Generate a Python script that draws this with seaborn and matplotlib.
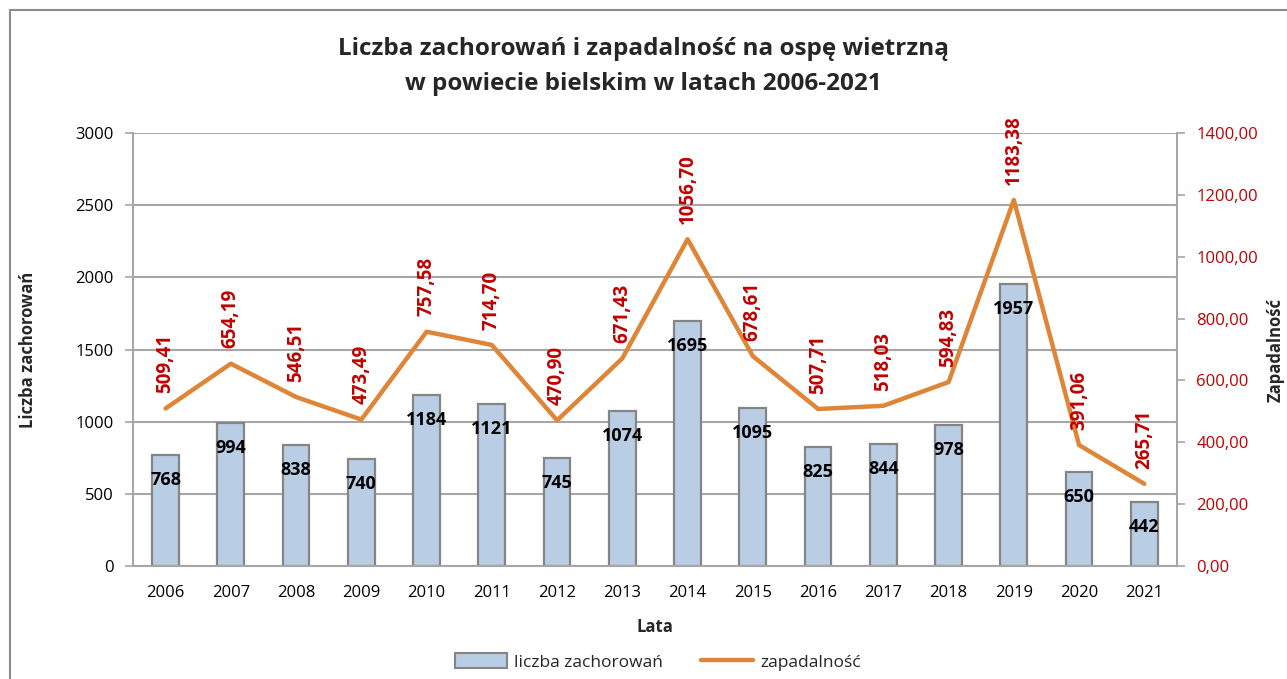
import numpy as np
import pandas as pd
import matplotlib
matplotlib.use("Agg")
import matplotlib.pyplot as plt
from matplotlib.patches import Patch, Rectangle
from matplotlib.lines import Line2D
from matplotlib.ticker import FuncFormatter, MultipleLocator, FixedLocator
import seaborn as sns

# dane
lata = ["2006", "2007", "2008", "2009", "2010", "2011", "2012", "2013",
        "2014", "2015", "2016", "2017", "2018", "2019", "2020", "2021"]
zachorowania = [768, 994, 838, 740, 1184, 1121, 745, 1074,
                1695, 1095, 825, 844, 978, 1957, 650, 442]
zapadalnosc = [509.41, 654.19, 546.51, 473.49, 757.58, 714.70, 470.90, 671.43,
               1056.70, 678.61, 507.71, 518.03, 594.83, 1183.38, 391.06, 265.71]

df = pd.DataFrame({"rok": lata, "liczba": zachorowania, "zap": zapadalnosc})

sns.set_theme(style="white")
plt.rcParams["font.family"] = ["Open Sans", "DejaVu Sans"]

BAR_FILL = "#B9CDE5"
BAR_EDGE = "#858585"
LINE_COL = "#DF8538"
RED = "#C00000"
GRID = "#A6A6A6"

fig = plt.figure(figsize=(12.87, 6.79), dpi=100)
ax = fig.add_axes([0.1033, 0.1664, 0.8112, 0.6377])

sns.barplot(data=df, x="rok", y="liczba", ax=ax, color=BAR_FILL, width=0.41,
            edgecolor=BAR_EDGE, linewidth=1.6, saturation=1, zorder=2)
ax.set_ylim(0, 3000)
ax.set_xlim(-0.5, len(lata) - 0.5)
ax.yaxis.set_major_locator(MultipleLocator(500))
ax.yaxis.grid(True, color=GRID, linewidth=1.5, zorder=0)
ax.set_axisbelow(True)

for i, v in enumerate(zachorowania):
    ax.annotate(str(v), (i, v), xytext=(0, -18), textcoords="offset points",
                ha="center", va="center", fontsize=13, fontweight="bold",
                color="black", zorder=5)

ax2 = ax.twinx()
sns.pointplot(data=df, x="rok", y="zap", ax=ax2, color=LINE_COL, marker="",
              linewidth=3.2, zorder=3)
ax2.set_ylim(0, 1400)
ax2.set_xlim(-0.5, len(lata) - 0.5)
ax2.yaxis.set_major_locator(MultipleLocator(200))
ax2.yaxis.set_major_formatter(FuncFormatter(lambda v, p: f"{v:.2f}".replace(".", ",")))

for i, v in enumerate(zapadalnosc):
    ax2.annotate(f"{v:.2f}".replace(".", ","), (i, v), xytext=(0, 11),
                 textcoords="offset points", ha="center", va="bottom",
                 rotation=90, fontsize=13.5, fontweight="bold", color=RED)

# osie
for a in (ax, ax2):
    for s in a.spines.values():
        s.set_color(GRID)
        s.set_linewidth(1.5)
    a.spines["top"].set_visible(False)
ax.spines["right"].set_visible(False)
ax2.spines["left"].set_visible(False)
ax2.spines["bottom"].set_visible(False)

ax.xaxis.set_minor_locator(FixedLocator(np.arange(-0.5, len(lata), 1.0)))
ax.tick_params(axis="x", which="major", length=0, pad=14, labelsize=12, labelcolor="black")
ax.tick_params(axis="x", which="minor", length=6, width=1.2, color=GRID, direction="out")
ax.tick_params(axis="y", length=6, width=1.2, color=GRID, direction="out",
               left=True, labelsize=12, labelcolor="black", pad=8)
ax2.tick_params(axis="y", length=6, width=1.2, color=GRID, direction="out",
                right=True, labelsize=12, labelcolor=RED, pad=8)

ax.set_xlabel("Lata", fontsize=12, fontweight="bold", labelpad=12)
ax.set_ylabel("Liczba zachorowań", fontsize=12, fontweight="bold")
ax.yaxis.set_label_coords(-0.092, 0.5)
ax2.set_ylabel("Zapadalność", fontsize=12, fontweight="bold")
ax2.yaxis.set_label_coords(1.086, 0.5)

fig.suptitle("Liczba zachorowań i zapadalność na ospę wietrzną\nw powiecie bielskim w latach 2006-2021",
             y=0.945, fontsize=17.5, fontweight="bold", linespacing=1.6)

handles = [Patch(facecolor=BAR_FILL, edgecolor=BAR_EDGE, linewidth=1.5),
           Line2D([0], [0], color=LINE_COL, linewidth=3.2)]
fig.legend(handles, ["liczba zachorowań", "zapadalność"], loc="center",
           bbox_to_anchor=(0.511, 0.025), ncol=2, frameon=False, fontsize=12.5,
           handlelength=3.0, handleheight=0.9, columnspacing=2.2, handletextpad=0.4)

# ramka wykresu
fig.patches.append(Rectangle((10 / 1287, -0.05), 1.1, 0.05 + 1 - 10 / 679,
                             transform=fig.transFigure, fill=False,
                             edgecolor="#8C8C8C", linewidth=1.5))

fig.savefig("out.png", dpi=100)
